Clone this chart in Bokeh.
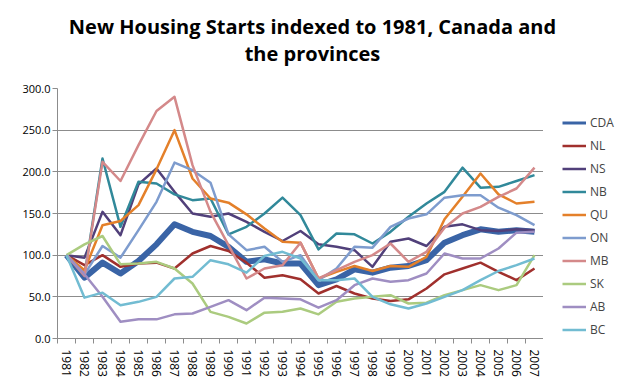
from bokeh.plotting import figure
from bokeh.layouts import row, column
from bokeh.models import (Range1d, FixedTicker, NumeralTickFormatter, Legend, LegendItem, Label)
from bokeh.embed import file_html
from bokeh.resources import INLINE

years = list(range(1981, 2008))
series_names = ["CDA", "NL", "NS", "NB", "QU", "ON", "MB", "SK", "AB", "BC"]

CDA = [100, 73, 91, 78, 93, 113, 137, 128, 123, 110, 92, 95, 90, 90, 64, 71, 83, 79, 85, 87, 94, 115, 124, 131, 128, 130, 128]
NL = [100, 88, 100, 86, 90, 91, 84, 102, 111, 105, 91, 73, 76, 71, 54, 63, 54, 48, 45, 47, 60, 77, 84, 91, 80, 70, 84]
NS = [100, 97, 152, 124, 185, 204, 176, 150, 146, 150, 140, 128, 117, 129, 113, 110, 106, 86, 116, 120, 111, 134, 137, 130, 129, 131, 130]
NB = [100, 76, 216, 134, 188, 186, 173, 166, 168, 125, 134, 150, 169, 148, 107, 126, 125, 114, 128, 146, 162, 176, 205, 181, 182, 189, 196]
QU = [100, 82, 136, 141, 160, 203, 250, 192, 168, 163, 149, 132, 116, 115, 72, 80, 87, 81, 87, 86, 98, 143, 170, 198, 173, 162, 164]
ON = [100, 77, 111, 97, 130, 164, 211, 202, 187, 125, 106, 110, 92, 100, 70, 84, 110, 109, 134, 144, 149, 169, 172, 172, 157, 148, 136]
MB = [100, 75, 212, 189, 232, 273, 290, 208, 152, 112, 72, 84, 88, 115, 72, 82, 92, 100, 114, 92, 104, 133, 150, 158, 170, 180, 205]
SK = [100, 113, 123, 89, 90, 92, 84, 66, 32, 26, 18, 31, 32, 36, 29, 44, 48, 50, 52, 42, 43, 52, 58, 64, 58, 64, 100]
AB = [100, 77, 50, 20, 23, 23, 29, 30, 38, 46, 34, 49, 48, 47, 37, 46, 64, 72, 68, 70, 78, 102, 96, 96, 108, 127, 128]
BC = [100, 49, 55, 40, 44, 50, 72, 74, 94, 89, 79, 99, 104, 96, 70, 70, 72, 50, 41, 36, 42, 50, 58, 70, 81, 88, 96]

y_ticks = [0, 50, 100, 150, 200, 250, 300]
title_line1 = "New Housing Starts indexed to 1981, Canada and"
title_line2 = "the provinces"

data = [CDA, NL, NS, NB, QU, ON, MB, SK, AB, BC]
colors = ["#3A64A6", "#A0302D", "#51407A", "#31899A", "#E4802A",
          "#7E9CCE", "#D4898A", "#ABCB7F", "#9F8EC2", "#72BCD2"]
widths = [6, 2.5, 2.5, 2.5, 2.5, 2.5, 2.5, 2.5, 2.5, 2.5]

FONT = "Open Sans"
GRAY = "#8C8C8C"


def blank(fig):
    fig.axis.visible = False
    fig.grid.visible = False
    fig.outline_line_color = None
    fig.background_fill_color = "white"
    fig.border_fill_color = "white"


# ---- title strip ----
tf = figure(width=618, height=80, output_backend="svg", toolbar_location=None,
            x_range=Range1d(0, 1), y_range=Range1d(0, 1),
            min_border_left=0, min_border_right=0, min_border_top=0, min_border_bottom=0)
blank(tf)
tf.title.text = ""
for txt, ypos in [(title_line1, 54), (title_line2, 27)]:
    tf.add_layout(Label(x=312, y=ypos, x_units="screen", y_units="screen", text=txt,
                        text_align="center", text_baseline="alphabetic",
                        text_font=FONT, text_font_size="20px", text_font_style="bold",
                        text_color="black"))

# ---- main chart ----
p = figure(width=543, height=304, output_backend="svg", toolbar_location=None,
           x_range=Range1d(years[0] - 0.5, years[-1] + 0.5),
           y_range=Range1d(y_ticks[0], y_ticks[-1]),
           min_border_left=57, min_border_right=0, min_border_top=8, min_border_bottom=46)
p.outline_line_color = None
p.background_fill_color = "white"
p.border_fill_color = "white"

p.xgrid.visible = False
p.ygrid.ticker = FixedTicker(ticks=y_ticks[1:])
p.ygrid.grid_line_color = GRAY
p.ygrid.grid_line_width = 1

p.yaxis.ticker = FixedTicker(ticks=y_ticks)
p.yaxis.formatter = NumeralTickFormatter(format="0.0")
p.yaxis.axis_line_color = GRAY
p.yaxis.major_tick_line_color = GRAY
p.yaxis.major_tick_out = 5
p.yaxis.major_tick_in = 0
p.yaxis.minor_tick_line_color = None
p.yaxis.major_label_standoff = 2
p.yaxis.major_label_text_font = FONT
p.yaxis.major_label_text_font_size = "11px"
p.yaxis.major_label_text_color = "black"

p.xaxis.ticker = FixedTicker(ticks=years, minor_ticks=[y - 0.5 for y in years] + [years[-1] + 0.5])
p.xaxis.formatter = NumeralTickFormatter(format="0")
p.xaxis.major_label_orientation = "vertical"
p.xaxis.axis_line_color = GRAY
p.xaxis.major_tick_line_color = None
p.xaxis.major_tick_out = 0
p.xaxis.major_tick_in = 0
p.xaxis.minor_tick_line_color = GRAY
p.xaxis.minor_tick_out = 5
p.xaxis.minor_tick_in = 0
p.xaxis.major_label_standoff = 6
p.xaxis.major_label_text_font = FONT
p.xaxis.major_label_text_font_size = "12px"
p.xaxis.major_label_text_color = "black"

for name, vals, col, w in zip(series_names, data, colors, widths):
    p.line(years, vals, line_color=col, line_width=w, line_join="round")

# ---- legend strip (its frame is aligned with the main chart's frame) ----
lf = figure(width=75, height=304, output_backend="svg", toolbar_location=None,
            x_range=Range1d(0, 1), y_range=Range1d(0, 1),
            min_border_left=0, min_border_right=0, min_border_top=0, min_border_bottom=0)
blank(lf)

nan = float("nan")
items = []
for name, col in zip(series_names, colors):
    r = lf.line(x=[nan], y=[nan], line_color=col, line_width=3 if name == "CDA" else 2.5)
    items.append(LegendItem(label=name, renderers=[r]))

legend = Legend(items=items, location=(19, -2), padding=0, margin=0, spacing=2,
                glyph_width=24, glyph_height=21, label_height=21, label_standoff=4,
                label_text_font=FONT, label_text_font_size="12px",
                border_line_color=None, background_fill_alpha=0)
lf.add_layout(legend, "center")

layout = column(tf, row(p, lf))
open("out.html", "w").write(file_html(layout, INLINE))
